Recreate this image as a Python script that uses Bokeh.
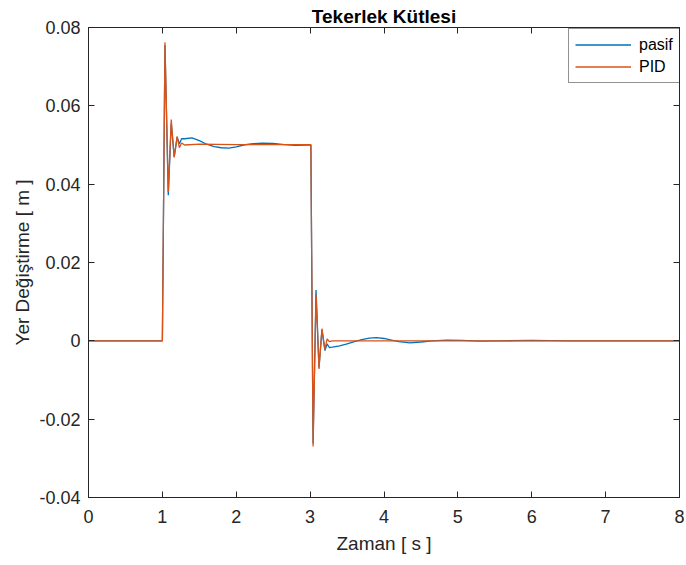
from bokeh.plotting import figure
from bokeh.models import (Range1d, FixedTicker, LinearAxis, CustomJSTickFormatter,
                          Legend, LegendItem, Title)
from bokeh.embed import file_html
from bokeh.resources import INLINE

# ---------------- data ----------------
t_pasif = [0.0, 1.0, 1.035, 1.08, 1.12, 1.16, 1.20, 1.23, 1.26, 1.30, 1.40, 1.50,
           1.60, 1.70, 1.80, 1.90, 2.00, 2.10, 2.20, 2.35, 2.50, 2.65, 2.80, 2.95,
           3.01, 3.04, 3.08, 3.12, 3.16, 3.20, 3.23, 3.26, 3.30, 3.40, 3.50, 3.60,
           3.70, 3.80, 3.90, 4.00, 4.10, 4.20, 4.35, 4.50, 4.65, 4.85, 5.05, 5.30,
           5.60, 6.00, 6.50, 7.00, 8.00]
y_pasif = [0.0, 0.0, 0.0755, 0.0372, 0.0555, 0.0470, 0.0520, 0.0503, 0.0516, 0.0516,
           0.0518, 0.0511, 0.0502, 0.0496, 0.0493, 0.0492, 0.0495, 0.0500, 0.0503,
           0.0505, 0.0504, 0.0501, 0.0499, 0.0500, 0.0500, -0.0262, 0.0130, -0.0068,
           0.0028, -0.0025, -0.0008, -0.0017, -0.0016, -0.0013, -0.0008, -0.0002,
           0.0003, 0.0007, 0.0008, 0.0006, 0.0002, -0.0002, -0.0005, -0.0003, 0.0000,
           0.0002, 0.0001, -0.0001, 0.0000, 0.0001, 0.0000, 0.0000, 0.0000]

t_pid = [0.0, 1.0, 1.035, 1.08, 1.12, 1.16, 1.20, 1.23, 1.26, 1.30, 1.50, 2.00,
         2.50, 3.01, 3.04, 3.08, 3.12, 3.16, 3.20, 3.23, 3.26, 3.30, 8.00]
y_pid = [0.0, 0.0, 0.0762, 0.0380, 0.0565, 0.0468, 0.0522, 0.0493, 0.0505, 0.0500,
         0.0502, 0.0501, 0.0501, 0.0501, -0.0270, 0.0118, -0.0072, 0.0031, -0.0022,
         0.0005, -0.0002, 0.0000, 0.0000]

x_ticks = [0, 1, 2, 3, 4, 5, 6, 7, 8]
x_tick_labels = ["0", "1", "2", "3", "4", "5", "6", "7", "8"]
y_ticks = [-0.04, -0.02, 0.0, 0.02, 0.04, 0.06, 0.08]
y_tick_labels = ["-0.04", "-0.02", "0", "0.02", "0.04", "0.06", "0.08"]

series_names = ["pasif", "PID"]
series_colors = ["#0072BD", "#D95319"]

title_text = "Tekerlek Kütlesi"
x_label = "Zaman [ s ]"
y_label = "Yer Değiştirme [ m ]"

# ---------------- figure ----------------
FONT = "Liberation Sans"
DARK = "#262626"

p = figure(width=686, height=565, output_backend="svg", toolbar_location=None,
           x_range=Range1d(0, 8), y_range=Range1d(-0.04, 0.08),
           x_axis_location=None, y_axis_location=None,
           min_border_left=88, min_border_right=7, min_border_top=27,
           min_border_bottom=68)
p.background_fill_color = "white"
p.border_fill_color = "white"
p.grid.visible = False
p.outline_line_color = DARK
p.outline_line_width = 1

p.title = Title(text=title_text, align="center", text_font=FONT,
                text_font_size="19px", text_font_style="bold", text_color="black",
                standoff=1, offset=0)


def fmt(ticks, labels):
    return CustomJSTickFormatter(args=dict(tv=ticks, tl=labels), code="""
        let best = 0, d = 1e9;
        for (let i = 0; i < tv.length; i++) {
            const dd = Math.abs(tv[i] - tick);
            if (dd < d) { d = dd; best = i; }
        }
        return tl[best];
    """)


def style_axis(ax):
    ax.axis_line_color = DARK
    ax.major_tick_line_color = DARK
    ax.major_tick_in = 6
    ax.major_tick_out = 0
    ax.minor_tick_line_color = None
    ax.major_label_text_font = FONT
    ax.major_label_text_color = DARK
    ax.axis_label_text_font = FONT
    ax.axis_label_text_font_style = "normal"
    ax.axis_label_text_color = DARK


xb = LinearAxis(ticker=FixedTicker(ticks=x_ticks), formatter=fmt(x_ticks, x_tick_labels),
                axis_label=x_label)
style_axis(xb)
xb.major_label_text_font_size = "18px"
xb.axis_label_text_font_size = "19px"
xb.major_label_standoff = 12
xb.axis_label_standoff = 7
p.add_layout(xb, "below")

yl = LinearAxis(ticker=FixedTicker(ticks=y_ticks), formatter=fmt(y_ticks, y_tick_labels),
                axis_label=y_label)
style_axis(yl)
yl.major_label_text_font_size = "18px"
yl.axis_label_text_font_size = "19px"
yl.major_label_standoff = 8
yl.axis_label_standoff = 3
p.add_layout(yl, "left")

# frame ticks on top and right, without labels
xt = LinearAxis(ticker=FixedTicker(ticks=x_ticks), major_label_text_alpha=0,
                major_label_text_font_size="1px", major_label_standoff=0)
style_axis(xt)
xt.formatter = CustomJSTickFormatter(code="return '';")
p.add_layout(xt, "above")

yr = LinearAxis(ticker=FixedTicker(ticks=y_ticks), major_label_text_alpha=0,
                major_label_text_font_size="1px", major_label_standoff=0)
style_axis(yr)
yr.formatter = CustomJSTickFormatter(code="return '';")
p.add_layout(yr, "right")

r1 = p.line(t_pasif, y_pasif, line_color=series_colors[0], line_width=1.3)
r2 = p.line(t_pid, y_pid, line_color=series_colors[1], line_width=1.3)

legend = Legend(items=[LegendItem(label=series_names[0], renderers=[r1]),
                       LegendItem(label=series_names[1], renderers=[r2])],
                location=(480, 414), margin=0, padding=6, spacing=3,
                glyph_width=56, glyph_height=19, label_height=19, label_standoff=8,
                label_text_font=FONT, label_text_font_size="16px",
                label_text_color="black",
                border_line_color=DARK, border_line_width=1,
                background_fill_color="white", background_fill_alpha=1)
p.add_layout(legend, "center")

open("out.html", "w").write(file_html(p, INLINE))
